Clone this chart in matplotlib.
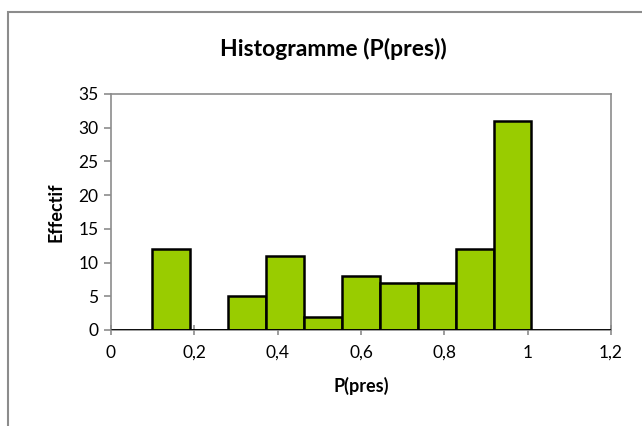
import matplotlib
matplotlib.use("Agg")
import matplotlib.pyplot as plt
from matplotlib.patches import Rectangle

# classes de P(pres) et effectifs
bornes = [0.099, 0.190, 0.281, 0.372, 0.463, 0.554, 0.645, 0.736, 0.827, 0.918, 1.009]
effectifs = [12, 0, 5, 11, 2, 8, 7, 7, 12, 31]
xticks = [0, 0.2, 0.4, 0.6, 0.8, 1.0, 1.2]
xlabels = ["0", "0,2", "0,4", "0,6", "0,8", "1", "1,2"]
yticks = [0, 5, 10, 15, 20, 25, 30, 35]

plt.rcParams['font.family'] = ['Lato', 'DejaVu Sans']

fig = plt.figure(figsize=(6.42, 4.26), dpi=100)
# cadre de la zone du graphique
fig.patches.append(Rectangle((8 / 642, -0.1), 1.2, 1 - 12 / 426 + 0.1, transform=fig.transFigure,
                             fill=False, edgecolor='#8c8c8c', linewidth=1.5))

ax = fig.add_axes([111 / 642, 1 - 330 / 426, 500 / 642, 236 / 426])
largeurs = [bornes[i + 1] - bornes[i] for i in range(len(effectifs))]
ax.bar(bornes[:-1], effectifs, width=largeurs, align='edge', color='#99cc00',
       edgecolor='black', linewidth=1.8, zorder=3)
ax.plot([0, 1.2], [0, 0], color='black', linewidth=2, zorder=4, solid_capstyle='butt')

ax.set_xlim(0, 1.2)
ax.set_ylim(0, 35)
ax.set_xticks(xticks)
ax.set_xticklabels(xlabels)
ax.set_yticks(yticks)
for s in ax.spines.values():
    s.set_color('#8c8c8c')
    s.set_linewidth(1.2)
ax.tick_params(axis='y', direction='out', length=5, width=1.2, color='#8c8c8c', labelsize=12.5, pad=4)
ax.tick_params(axis='x', direction='inout', length=7, width=1.2, color='#8c8c8c', labelsize=12.5, pad=7)

fig.text(333 / 642, 1 - 49 / 426, "Histogramme (P(pres))", fontsize=16.5, fontweight='bold',
         ha='center', va='center')
ax.set_xlabel("P(pres)", fontsize=13, fontweight='bold', labelpad=12)
ax.set_ylabel("Effectif", fontsize=13, fontweight='bold', labelpad=10)

fig.savefig("out.png", dpi=100)
